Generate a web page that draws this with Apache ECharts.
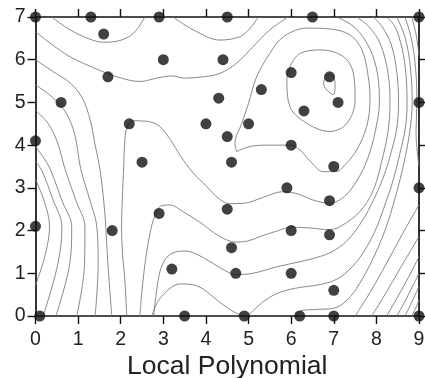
<!DOCTYPE html>
<html>
<head>
<meta charset="utf-8">
<script src="https://cdn.jsdelivr.net/npm/echarts@6/dist/echarts.min.js"></script>
<style>
  html, body { margin: 0; padding: 0; background: #fff; }
  #chart { width: 425px; height: 378px; }
</style>
</head>
<body>
<div id="chart"></div>
<script>
// Sample locations (x, y)
const samplePoints = [
  [0, 7], [1.3, 7], [2.9, 7], [4.5, 7], [6.5, 7], [9, 7],
  [1.6, 6.6], [3.0, 6.0], [4.4, 6.0], [1.7, 5.6], [0.6, 5.0],
  [6.0, 5.7], [6.9, 5.6], [7.1, 5.0], [5.3, 5.3], [4.3, 5.1], [6.3, 4.8],
  [2.2, 4.5], [4.0, 4.5], [5.0, 4.5], [4.5, 4.2], [0, 4.1], [6.0, 4.0],
  [2.5, 3.6], [4.6, 3.6], [7.0, 3.5], [5.9, 3.0], [6.9, 2.7], [9, 3],
  [2.9, 2.4], [4.5, 2.5], [0, 2.1], [1.8, 2.0], [6.0, 2.0], [6.9, 1.9],
  [4.6, 1.6], [3.2, 1.1], [4.7, 1.0], [6.0, 1.0], [7.0, 0.6],
  [0.1, 0], [3.5, 0], [4.9, 0], [6.2, 0], [7.0, 0], [9, 0], [9, 5]
];

// Contour isolines of the local polynomial surface
const isoTopLeft = [[0.38,7],[0.81,6.7],[1.28,6.48],[1.59,6.41],[1.98,6.45],[2.3,6.62],[2.57,7]];
const isoTopMid = [[3.23,7],[3.7,6.7],[4.33,6.46],[4.8,6.54],[5.04,6.74],[5.23,7]];
const isoUpper = [[0,6.66],[0.34,6.39],[0.81,6.07],[1.44,5.78],[1.91,5.6],[2.45,5.49],[2.85,5.57],[3.2,5.62],[3.5,5.57],[3.94,5.6],[4.33,5.68],[4.72,5.92],[5.11,6.31],[5.5,6.7],[5.93,7]];

const isoLeftA = [[0,3.2],[0.2,2.7],[0.33,2.1],[0.22,1.4],[0,0.72]];
const isoLeftB = [[0,3.62],[0.15,3.4],[0.4,2.75],[0.62,2.09],[0.52,1.2],[0.18,0]];
const isoLeftC = [[0,3.97],[0.18,3.72],[0.34,3.45],[0.62,2.7],[0.85,2.09],[0.8,1.2],[0.48,0]];
const isoLeftD = [[0,4.82],[0.3,4.5],[0.52,4.05],[0.69,3.45],[0.95,2.7],[1.16,2.09],[1.15,1.2],[0.97,0]];
const isoLeftE = [[0,5.41],[0.4,5.12],[0.72,4.75],[0.92,4.25],[1.06,3.45],[1.28,2.7],[1.44,2.09],[1.47,1.2],[1.4,0]];
const isoLeftF = [[0,6.0],[0.4,5.73],[0.82,5.45],[1.1,5.1],[1.28,4.6],[1.4,4.0],[1.51,3.45],[1.6,2.7],[1.65,2.09],[1.7,1.2],[1.79,0]];

const isoBand1 = [[2.14,0],[2.1,0.8],[2.04,1.5],[2.02,2.09],[2.04,2.8],[2.07,3.5],[2.1,4.15],[2.16,4.45],[2.3,4.57],[2.6,4.56],[2.9,4.45],[3.15,4.15],[3.4,3.75],[3.7,3.35],[4.0,3.05],[4.3,2.75],[4.55,2.63],[4.9,2.64],[5.35,2.78],[5.8,2.91],[6.15,2.86],[6.5,2.72],[6.9,2.64],[7.25,2.8],[7.55,3.18],[7.8,3.7],[7.98,4.35],[8.07,5.0],[8.03,5.65],[7.85,6.25],[7.5,6.75],[7.07,7]];
const isoBand2 = [[2.45,0],[2.5,0.6],[2.58,1.3],[2.68,1.9],[2.8,2.35],[2.95,2.58],[3.15,2.6],[3.45,2.45],[3.85,2.2],[4.3,1.88],[4.7,1.73],[5.0,1.76],[5.3,1.87],[5.7,2.0],[6.0,2.08],[6.45,2.06],[6.9,2.02],[7.35,2.22],[7.7,2.55],[7.95,3.0],[8.12,3.6],[8.27,4.3],[8.32,5.0],[8.27,5.7],[8.1,6.35],[7.85,6.75],[7.54,7]];
const isoBand3 = [[2.77,0],[2.83,0.5],[2.92,1.04],[3.05,1.33],[3.23,1.48],[3.5,1.52],[3.75,1.46],[4.17,1.23],[4.45,1.06],[4.71,0.97],[5.1,1.0],[5.66,1.15],[6.2,1.27],[6.6,1.37],[6.95,1.5],[7.3,1.75],[7.65,2.2],[7.95,2.75],[8.2,3.35],[8.35,3.85],[8.48,4.4],[8.52,5.0],[8.48,5.7],[8.35,6.35],[8.15,6.75],[7.93,7]];
const isoBand4 = [[2.73,0],[2.85,0.3],[3.0,0.5],[3.2,0.68],[3.4,0.75],[3.7,0.73],[3.95,0.62],[4.25,0.38],[4.55,0.16],[4.85,0]];
const isoBand5 = [[4.96,0],[5.12,0.13],[5.3,0.3],[5.65,0.52],[6.1,0.65],[6.65,0.73],[7.0,0.83],[7.25,0.98],[7.6,1.35],[7.95,1.95],[8.2,2.6],[8.4,3.2],[8.55,3.8],[8.68,4.4],[8.72,5.0],[8.68,5.8],[8.57,6.4],[8.42,6.8],[8.24,7]];
const isoBand6 = [[6.1,0],[6.22,0.12],[6.5,0.15],[6.99,0.18],[7.31,0.37],[7.6,0.75],[7.9,1.3],[8.2,2.0],[8.45,2.8],[8.65,3.6],[8.78,4.3],[8.84,5.0],[8.8,5.8],[8.68,6.5],[8.48,7]];
const isoBand7 = [[9,3.5],[8.93,4.3],[8.95,5.0],[8.92,5.8],[8.82,6.5],[8.67,7]];
const isoBand8 = [[9,6.1],[8.93,6.6],[8.83,7]];

const isoCorner1 = [[7.5,0],[7.85,0.55],[8.22,1.2],[8.6,1.9],[9,2.6]];
const isoCorner2 = [[7.89,0],[8.2,0.5],[8.55,1.1],[9,1.86]];
const isoCorner3 = [[8.24,0],[8.5,0.45],[8.75,0.9],[9,1.39]];
const isoCorner4 = [[8.48,0],[8.7,0.4],[9,1.0]];
const isoCorner5 = [[8.67,0],[8.82,0.3],[9,0.69]];
const isoCorner6 = [[8.83,0],[8.92,0.18],[9,0.37]];

const isoRing3 = [[4.72,3.85],[4.68,4.04],[4.84,4.51],[5.0,4.98],[5.19,5.6],[5.5,6.15],[5.82,6.54],[6.37,6.74],[6.91,6.72],[7.38,6.58],[7.66,6.23],[7.81,5.6],[7.85,5.06],[7.77,4.43],[7.54,3.89],[7.3,3.58],[7.05,3.38],[6.75,3.38],[6.45,3.62],[6.21,3.88],[5.97,4.0],[5.5,4.0],[5.04,3.97],[4.72,3.85]];
const isoRing2 = [[6.01,5.92],[5.9,5.53],[5.97,4.9],[6.37,4.51],[6.91,4.32],[7.31,4.51],[7.5,5.06],[7.46,5.68],[7.23,6.07],[6.68,6.23],[6.21,6.15],[6.01,5.92]];
const isoRing1 = [[6.8,5.6],[6.76,5.45],[6.84,5.29],[6.99,5.18],[7.03,5.45],[6.99,5.6],[6.87,5.64],[6.8,5.6]];

const isolines = [
  isoTopLeft, isoTopMid, isoUpper,
  isoLeftA, isoLeftB, isoLeftC, isoLeftD, isoLeftE, isoLeftF,
  isoBand1, isoBand2, isoBand3, isoBand4, isoBand5, isoBand6, isoBand7, isoBand8,
  isoCorner1, isoCorner2, isoCorner3, isoCorner4, isoCorner5, isoCorner6,
  isoRing3, isoRing2, isoRing1
];

const xMin = 0, xMax = 9, yMin = 0, yMax = 7;
const chartTitle = 'Local Polynomial';

const chart = echarts.init(document.getElementById('chart'), null, { renderer: 'canvas' });

const fontFamily = 'Liberation Sans, Arial, sans-serif';
const axisLine = { show: true, onZero: false, lineStyle: { color: '#111', width: 1.7 } };
const axisTick = { show: true, inside: false, length: 8, lineStyle: { color: '#111', width: 1.4 } };
const labelFont = { fontFamily, fontSize: 19.5, color: '#222' };

const series = isolines.map(pts => ({
  type: 'line',
  data: pts,
  smooth: 0.35,
  showSymbol: false,
  symbol: 'none',
  silent: true,
  lineStyle: { color: '#7c7c7c', width: 0.9 },
  z: 1
}));

series.push({
  type: 'scatter',
  data: samplePoints,
  symbol: 'circle',
  symbolSize: 11,
  clip: false,
  itemStyle: { color: '#111' },
  z: 10
});

chart.setOption({
  animation: false,
  backgroundColor: '#fff',
  grid: { left: 35.5, right: 6, top: 17, bottom: 62, containLabel: false, outerBoundsMode: 'none' },
  xAxis: [
    {
      type: 'value', min: xMin, max: xMax, interval: 1,
      position: 'bottom',
      axisLine, axisTick,
      axisLabel: Object.assign({ margin: 14 }, labelFont),
      splitLine: { show: false },
      name: chartTitle,
      nameLocation: 'middle',
      nameMoveOverlap: false,
      nameGap: 51,
      nameTextStyle: { fontFamily, fontSize: 26.5, color: '#222', verticalAlign: 'middle' }
    },
    {
      type: 'value', min: xMin, max: xMax, interval: 1,
      position: 'top',
      axisLine, axisTick,
      axisLabel: { show: false },
      splitLine: { show: false }
    }
  ],
  yAxis: [
    {
      type: 'value', min: yMin, max: yMax, interval: 1,
      position: 'left',
      axisLine, axisTick,
      axisLabel: Object.assign({ margin: 10 }, labelFont),
      splitLine: { show: false }
    },
    {
      type: 'value', min: yMin, max: yMax, interval: 1,
      position: 'right',
      axisLine, axisTick,
      axisLabel: { show: false },
      splitLine: { show: false }
    }
  ],
  series
});
</script>
</body>
</html>
